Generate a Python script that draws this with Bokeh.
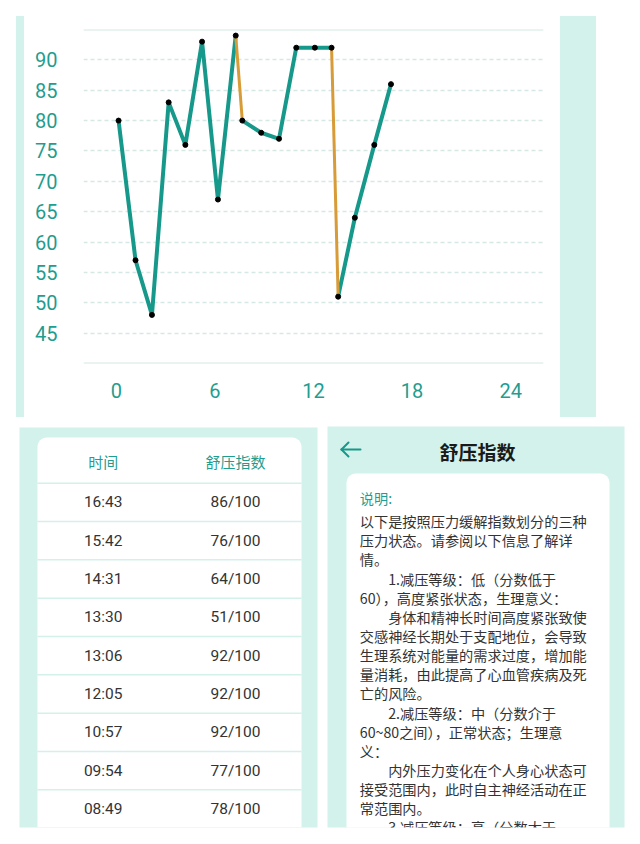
from bokeh.plotting import figure
from bokeh.layouts import column, row
from bokeh.models import Range1d, FixedTicker, Span, Div
from bokeh.core.properties import value
from bokeh.embed import file_html
from bokeh.resources import INLINE

# ---------------- data ----------------
times = ["00:08", "01:10", "02:10", "03:11", "04:12", "05:13", "06:11", "07:16", "07:40",
         "08:49", "09:54", "10:57", "12:05", "13:06", "13:30", "14:31", "15:42", "16:43"]
scores = [80, 57, 48, 83, 76, 93, 67, 94, 80, 78, 77, 92, 92, 92, 51, 64, 76, 86]
alert_segments = [7, 13]          # segment i joins reading i and reading i+1
x_ticks = [0, 6, 12, 18, 24]
y_ticks = [45, 50, 55, 60, 65, 70, 75, 80, 85, 90]
table_header = ["时间", "舒压指数"]
table_rows_shown = 9
page_title = "舒压指数"
note_title = "说明:"
note_lines = [
    "以下是按照压力缓解指数划分的三种",
    "压力状态。请参阅以下信息了解详",
    "情。",
    "\u3000\u30001.减压等级：低（分数低于",
    "60），高度紧张状态，生理意义：",
    "\u3000\u3000身体和精神长时间高度紧张致使",
    "交感神经长期处于支配地位，会导致",
    "生理系统对能量的需求过度，增加能",
    "量消耗，由此提高了心血管疾病及死",
    "亡的风险。",
    "\u3000\u30002.减压等级：中（分数介于",
    "60~80之间），正常状态；生理意",
    "义：",
    "\u3000\u3000内外压力变化在个人身心状态可",
    "接受范围内，此时自主神经活动在正",
    "常范围内。",
    "\u3000\u30003.减压等级：高（分数大于",
]

# ---------------- styles ----------------
TEAL = "#16998a"
TEAL_TXT = "#1f9d8f"
ORANGE = "#d79b38"
CYAN = "#d3f2ec"
GRID = "#d6e8e6"
DARK = "#333333"
CJK = value("Noto Sans CJK SC")
LAT = value("Roboto")

hours = [int(t[:2]) + int(t[3:]) / 60 for t in times]

# ---------------- chart ----------------
chart = figure(width=536, height=420, x_range=Range1d(-2, 26), y_range=Range1d(40, 95),
               output_backend="svg", toolbar_location=None,
               min_border_left=59, min_border_right=17, min_border_top=29, min_border_bottom=57)
chart.outline_line_color = None
chart.background_fill_color = "white"
chart.border_fill_color = "white"

for ax, ticks, standoff in ((chart.xaxis[0], x_ticks, 13), (chart.yaxis[0], y_ticks, 20)):
    ax.ticker = FixedTicker(ticks=ticks)
    ax.axis_line_color = None
    ax.major_tick_line_color = None
    ax.minor_tick_line_color = None
    ax.major_label_text_font = "Roboto"
    ax.major_label_text_font_size = "20px"
    ax.major_label_text_color = TEAL_TXT
    ax.major_label_standoff = standoff

chart.xgrid.visible = False
chart.ygrid.grid_line_color = GRID
chart.ygrid.grid_line_dash = "4 3"
chart.ygrid.grid_line_width = 1.5

for loc in (chart.y_range.start, chart.y_range.end):
    chart.add_layout(Span(location=loc, dimension="width", line_color=GRID, line_width=2))

# split the series into runs at alert segments
runs_x, runs_y = [], []
start = 0
for s in sorted(alert_segments) + [len(hours) - 1]:
    runs_x.append(hours[start:s + 1])
    runs_y.append(scores[start:s + 1])
    start = s + 1
chart.multi_line(runs_x, runs_y, line_color=TEAL, line_width=4, line_join="round", line_cap="round")
chart.segment(x0=[hours[i] for i in alert_segments], y0=[scores[i] for i in alert_segments],
              x1=[hours[i + 1] for i in alert_segments], y1=[scores[i + 1] for i in alert_segments],
              line_color=ORANGE, line_width=3)
chart.scatter(hours, scores, size=5, color="black")


def strip(width, pad_left, bar_w):
    html = (f'<div style="box-sizing:content-box;width:{bar_w}px;height:401px;'
            f'background:{CYAN};border-top:16px solid white;border-left:{pad_left}px solid white;"></div>')
    return Div(text=html, width=width, height=420, margin=0)


left_strip = strip(24, 16, 8)
right_strip = strip(80, 0, 36)

# ---------------- bottom panels ----------------
bot = figure(width=640, height=424, x_range=Range1d(0, 640), y_range=Range1d(827, 420),
             output_backend="svg", toolbar_location=None,
             x_axis_location=None, y_axis_location=None,
             min_border_left=0, min_border_right=0, min_border_top=0, min_border_bottom=17)
bot.outline_line_color = None
bot.grid.visible = False
bot.background_fill_color = "white"
bot.border_fill_color = "white"

bot.quad(left=[19, 327], right=[317, 624], top=[427, 426], bottom=[900, 900],
         fill_color=CYAN, line_color=None)
bot.quad(left=[37, 346], right=[301, 609], top=[437, 473], bottom=[900, 900],
         fill_color="white", line_color=None, border_radius=9)

# table
row_h = 38.33
n_rows = min(table_rows_shown, len(times))
sep_y = [482.7 + row_h * i for i in range(n_rows + 1)]
bot.segment(x0=[37] * len(sep_y), x1=[301] * len(sep_y), y0=sep_y, y1=sep_y,
            line_color="#d4f0eb", line_width=1.5)
bot.text(x=[102.7, 235], y=[461, 461], text=table_header, text_font=CJK,
         text_font_size="15px", text_color=TEAL_TXT, text_align="center", text_baseline="middle")
recent_t = list(reversed(times))[:n_rows]
recent_s = [f"{s}/100" for s in list(reversed(scores))[:n_rows]]
row_y = [501.7 + row_h * i for i in range(n_rows)]
bot.text(x=[102.7] * n_rows, y=row_y, text=recent_t, text_font=LAT, text_font_size="15.5px",
         text_color=DARK, text_align="center", text_baseline="middle")
bot.text(x=[235] * n_rows, y=row_y, text=recent_s, text_font=LAT, text_font_size="15.5px",
         text_color=DARK, text_align="center", text_baseline="middle")

# right panel
bot.segment(x0=[341, 341, 341], y0=[449, 449, 449], x1=[360, 348, 348], y1=[449, 442, 456],
            line_color=TEAL, line_width=2, line_cap="round")
bot.text(x=[477], y=[451], text=[page_title], text_font=CJK, text_font_size="19px",
         text_font_style="bold", text_color="#1a1a1a", text_align="center", text_baseline="middle")
bot.text(x=[359.3], y=[497], text=[note_title], text_font=CJK, text_font_size="14.2px",
         text_color=TEAL_TXT, text_align="left", text_baseline="middle")
bot.text(x=[359.3] * len(note_lines), y=[520.7 + 19.13 * i for i in range(len(note_lines))],
         text=note_lines, text_font=CJK, text_font_size="14.2px", text_color=DARK,
         text_align="left", text_baseline="middle")

layout = column(row(left_strip, chart, right_strip), bot)
open("out.html", "w").write(file_html(layout, INLINE))
